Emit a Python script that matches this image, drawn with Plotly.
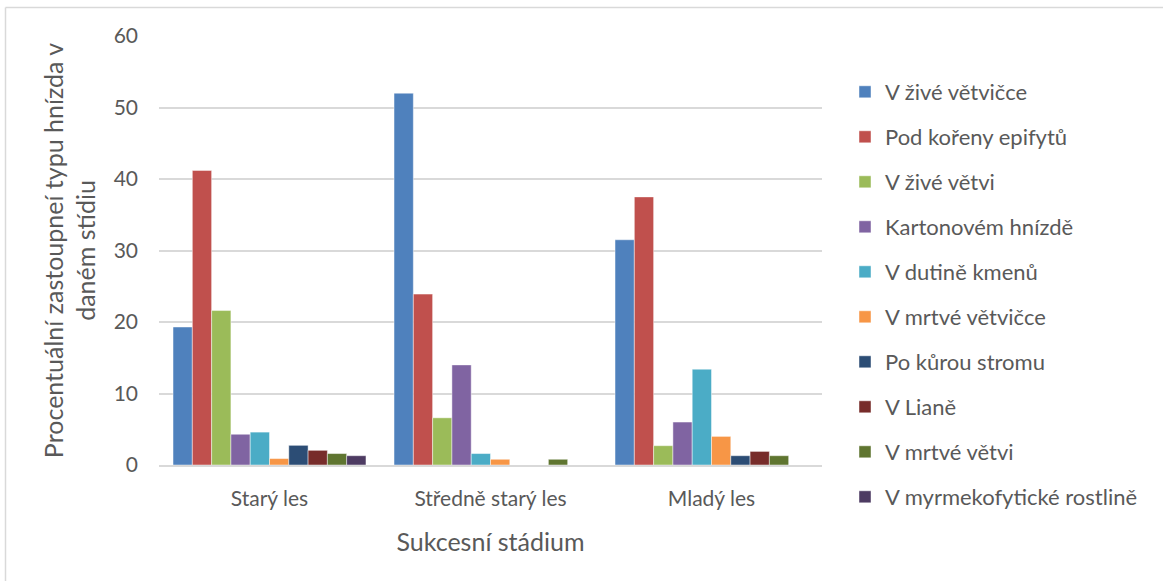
import plotly.graph_objects as go

categories = ["Starý les", "Středně starý les", "Mladý les"]

series_names = [
    "V živé větvičce",
    "Pod kořeny epifytů",
    "V živé větvi",
    "Kartonovém hnízdě",
    "V dutině kmenů",
    "V mrtvé větvičce",
    "Po kůrou stromu",
    "V Lianě",
    "V mrtvé větvi",
    "V myrmekofytické rostlině",
]

v_zive_vetvicce = [19.3, 52.0, 31.5]
pod_koreny_epifytu = [41.2, 23.9, 37.5]
v_zive_vetvi = [21.6, 6.6, 2.7]
kartonovem_hnizde = [4.3, 14.0, 6.0]
v_dutine_kmenu = [4.6, 1.6, 13.4]
v_mrtve_vetvicce = [0.9, 0.8, 4.0]
po_kurou_stromu = [2.75, 0.0, 1.3]
v_liane = [2.05, 0.0, 1.9]
v_mrtve_vetvi = [1.6, 0.8, 1.3]
v_myrmekofyticke = [1.3, 0.0, 0.0]

series_values = [
    v_zive_vetvicce, pod_koreny_epifytu, v_zive_vetvi, kartonovem_hnizde,
    v_dutine_kmenu, v_mrtve_vetvicce, po_kurou_stromu, v_liane,
    v_mrtve_vetvi, v_myrmekofyticke,
]

colors = ["#4F81BD", "#C0504D", "#9BBB59", "#8064A2", "#4BACC6",
          "#F79646", "#2C4D75", "#772C2A", "#5F7530", "#4D3B62"]

FONT = "Lato"
TXT = "#595959"

fig = go.Figure()
for i, (name, vals) in enumerate(zip(series_names, series_values)):
    fig.add_trace(go.Bar(
        x=categories, y=vals, name=name, legendgroup=f"g{i}",
        marker=dict(color=colors[i], line=dict(color="rgba(255,255,255,0.45)", width=1)),
    ))

W, H = 1163, 581
L, R, T, B = 159, 822, 36, 465

def px(x):
    return (x - L) / (R - L)

def py(y):
    return (B - y) / (B - T)

fig.update_layout(
    width=W, height=H,
    margin=dict(l=L, r=W - R, t=T, b=H - B),
    paper_bgcolor="white", plot_bgcolor="white",
    barmode="group", bargap=0.127, bargroupgap=0,
    font=dict(family=FONT, color=TXT, size=21),
    legend=dict(
        x=px(845), xanchor="left", y=py(71), yanchor="top",
        font=dict(family=FONT, size=22, color=TXT),
        tracegroupgap=13.4, traceorder="grouped",
        maxheight=570,
        bgcolor="rgba(0,0,0,0)",
    ),
    xaxis=dict(
        showgrid=False, showline=True, linecolor="#D9D9D9", linewidth=1.5,
        ticks="", ticklabelstandoff=14,
        tickfont=dict(family=FONT, size=21, color=TXT),
        title=dict(text="Sukcesní stádium", standoff=25,
                   font=dict(family=FONT, size=25, color=TXT)),
    ),
    yaxis=dict(
        range=[0, 60], tickvals=[0, 10, 20, 30, 40, 50, 60],
        showgrid=True, gridcolor="#D9D9D9", gridwidth=1.5,
        zeroline=False, showline=False, ticks="", ticklabelstandoff=20,
        tickfont=dict(family=FONT, size=21, color=TXT),
        title=dict(text="Procentuální zastoupneí typu hnízda v<br>daném stídiu", standoff=10,
                   font=dict(family=FONT, size=25, color=TXT)),
    ),
    shapes=[
        dict(type="line", xref="paper", yref="paper",
             x0=px(5.5), x1=px(1170), y0=py(7.5), y1=py(7.5),
             line=dict(color="#D9D9D9", width=1.5)),
        dict(type="line", xref="paper", yref="paper",
             x0=px(5.5), x1=px(5.5), y0=py(7.5), y1=py(590),
             line=dict(color="#D9D9D9", width=1.5)),
    ],
)

fig.write_html("out.html")
